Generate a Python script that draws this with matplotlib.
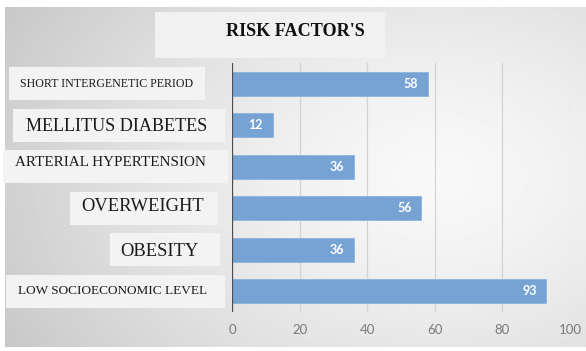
import matplotlib

matplotlib.use("Agg")
import matplotlib.pyplot as plt
import matplotlib.transforms as mtransforms
from matplotlib.patches import Rectangle
import numpy as np

# data, top to bottom as drawn
categories = [
    "SHORT INTERGENETIC PERIOD",
    "MELLITUS DIABETES",
    "ARTERIAL HYPERTENSION",
    "OVERWEIGHT",
    "OBESITY",
    "LOW SOCIOECONOMIC LEVEL",
]
values = [58, 12, 36, 56, 36, 93]
xticks = [0, 20, 40, 60, 80, 100]

# label styling (the source slide used odd, hand-sized text boxes)
label_sizes = [8.55, 13.1, 10.9, 13.3, 13.3, 9.5]
label_xc = [-0.371, -0.342, -0.361, -0.266, -0.216, -0.352]
label_dy = [0.0, 0.03, -0.1, -0.04, 0.05, 0.0]
box_left = [-0.66, -0.648, -0.678, -0.479, -0.361, -0.669]
box_right = [-0.08, -0.021, -0.012, -0.041, -0.036, -0.021]

W, H = 586, 351
fig = plt.figure(figsize=(W / 100, H / 100), dpi=100)
fig.patch.set_facecolor("white")

# gradient slide background
bg = fig.add_axes([5 / W, 4 / H, 1 - 5 / W, 1 - 11 / H], zorder=-10)
gx, gy = np.meshgrid(np.linspace(0, 1, 300), np.linspace(0, 1, 200))
d = np.sqrt(((gx - 0.74) / 1.0) ** 2 + ((gy - 0.5) / 1.2) ** 2)
shade = np.clip(0.975 - 0.24 * d ** 1.4, 0, 1)
bg.imshow(shade, cmap="gray", vmin=0, vmax=1, origin="lower", aspect="auto",
          extent=[0, 1, 0, 1], interpolation="bilinear")
bg.set_axis_off()

# title box
fig.patches.append(Rectangle((155 / W, 1 - 58 / H), 230 / W, 46 / H,
                             transform=fig.transFigure, facecolor="#f1f1f1",
                             edgecolor="none", zorder=-5))
fig.text(295 / W, 1 - 31 / H, "RISK FACTOR'S", ha="center", va="center",
         family="Liberation Serif", fontweight="bold", fontsize=13.1, color="#111111")

ax = fig.add_axes([232 / W, 1 - 312 / H, 338 / W, 249 / H])
ax.patch.set_visible(False)
y = np.arange(len(categories))
bars = ax.barh(y, values, height=0.58, color="#76a3d3", edgecolor="#8db3dc",
               linewidth=0.6, zorder=3)
ax.set_ylim(len(categories) - 0.5, -0.5)
ax.set_xlim(0, 100)
ax.set_xticks(xticks)
ax.tick_params(axis="x", length=0, pad=9, labelsize=9.5, labelcolor="#7a7a7a")
for lbl in ax.get_xticklabels():
    lbl.set_family("Lato")
ax.set_yticks([])
for s in ax.spines.values():
    s.set_visible(False)
ax.grid(axis="x", color="#d3d3d3", linewidth=0.9, zorder=0)
ax.axvline(0, color="#4d4d4d", linewidth=1.6, zorder=4)

for rect, v in zip(bars, values):
    ax.annotate(str(v), (v, rect.get_y() + rect.get_height() / 2),
                xytext=(-7, 0), textcoords="offset points", ha="right", va="center",
                color="white", fontsize=9, fontweight="bold", family="Lato", zorder=5)

trans = mtransforms.blended_transform_factory(ax.transAxes, ax.transData)
for i, name in enumerate(categories):
    ax.add_patch(Rectangle((box_left[i], i - 0.4), box_right[i] - box_left[i], 0.8,
                           transform=trans, facecolor="#f3f3f3", edgecolor="none",
                           clip_on=False, zorder=1))
    ax.text(label_xc[i], i + label_dy[i], name, transform=trans, ha="center",
            va="center", family="Liberation Serif", fontsize=label_sizes[i],
            color="#1a1a1a", clip_on=False, zorder=2)

fig.savefig("out.png", dpi=100)
